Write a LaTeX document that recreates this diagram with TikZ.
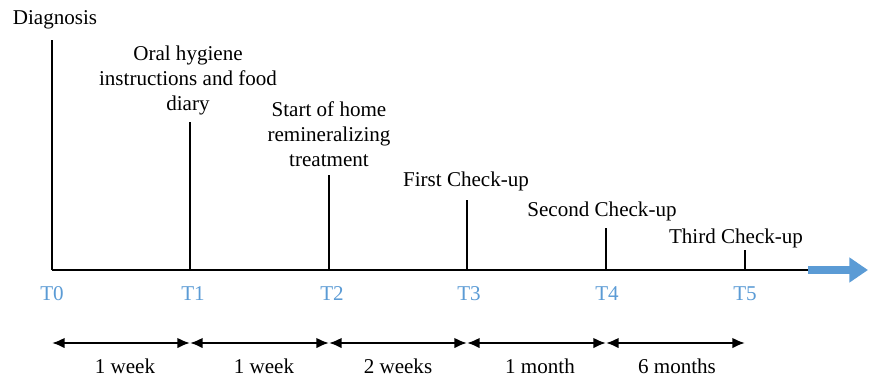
\documentclass[tikz,border=0pt]{standalone}
\usepackage{fontspec}
\setmainfont{Liberation Serif}
\usetikzlibrary{arrows.meta}
\definecolor{tblue}{RGB}{91,155,213}
\begin{document}
\begin{tikzpicture}
		[x=0.75pt,y=-0.75pt,
		every node/.style={font=\fontsize{15.8}{18.75}\selectfont},
		event/.style={align=center},
		tick/.style={line width=2.1pt},
		tlabel/.style={text=tblue},
		span/.style={line width=1.6pt,
			{Latex[length=9.5pt,width=8pt]}-{Latex[length=9.5pt,width=8pt]}}]
		\useasboundingbox (0,0) rectangle (869,376);
		% axis
		\coordinate (a0) at (52,270);
		\coordinate (a1) at (190,270);
		\coordinate (a2) at (329,270);
		\coordinate (a3) at (467,270);
		\coordinate (a4) at (606,270);
		\coordinate (a5) at (745,270);
		\coordinate (ae) at (808,270);
		\coordinate (tip) at (868,270);
		\coordinate (h0) at (52,40);
		\coordinate (h1) at (190,122);
		\coordinate (h2) at (329,175);
		\coordinate (h3) at (467,200);
		\coordinate (h4) at (606,228);
		\coordinate (h5) at (745,250);
		\draw[tick] (a0) -- (ae);
		\draw[tblue, line width=5.5pt, -{Triangle[length=14pt,width=18pt]}] (ae) -- (tip);
		\draw[tick] (a0) -- (h0);
		\draw[tick] (a1) -- (h1);
		\draw[tick] (a2) -- (h2);
		\draw[tick] (a3) -- (h3);
		\draw[tick] (a4) -- (h4);
		\draw[tick] (a5) -- (h5);
		% events
		\node[event] (diag) at (55,20) {Diagnosis};
		\node[event] (oral) at (188,80) {Oral hygiene\\instructions and food\\diary};
		\node[event] (home) at (329,134) {Start of home\\remineralizing\\treatment};
		\node[event] (first) at (466,181) {First Check-up};
		\node[event] (second) at (602,211) {Second Check-up};
		\node[event] (third) at (736,238) {Third Check-up};
		% times
		\node[tlabel] (t0) at (52,294) {T0};
		\node[tlabel] (t1) at (193,294) {T1};
		\node[tlabel] (t2) at (332,294) {T2};
		\node[tlabel] (t3) at (469,294) {T3};
		\node[tlabel] (t4) at (607,294) {T4};
		\node[tlabel] (t5) at (745,294) {T5};
		% durations
		\coordinate (b0) at (52,343);
		\coordinate (b1) at (190,343);
		\coordinate (b2) at (329,343);
		\coordinate (b3) at (467,343);
		\coordinate (b4) at (606,343);
		\coordinate (b5) at (745,343);
		\draw[span] (b0) -- (b1);
		\draw[span] (b1) -- (b2);
		\draw[span] (b2) -- (b3);
		\draw[span] (b3) -- (b4);
		\draw[span] (b4) -- (b5);
		\node (d1) at (125,366) {1 week};
		\node (d2) at (264,366) {1 week};
		\node (d3) at (398,366) {2 weeks};
		\node (d4) at (540,366) {1 month};
		\node (d5) at (677,366) {6 months};
	\end{tikzpicture}
\end{document}
